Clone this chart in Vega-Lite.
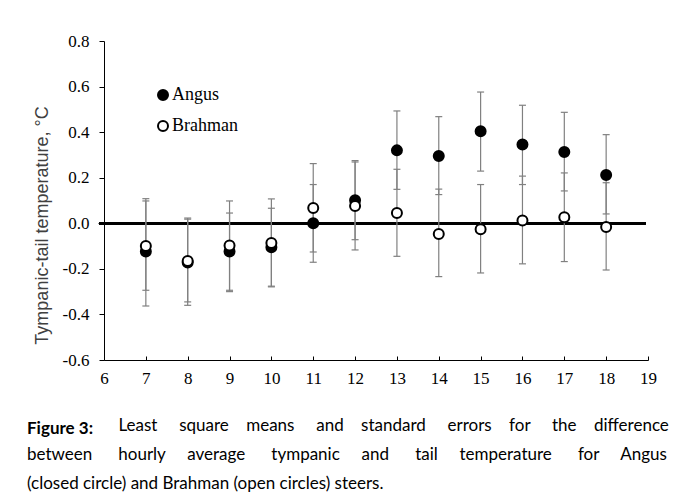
{
  "$schema": "https://vega.github.io/schema/vega-lite/v6.json",
  "width": 544,
  "height": 319,
  "autosize": {"type": "none"},
  "padding": {"left": 104, "top": 41, "right": 37, "bottom": 141},
  "background": "white",
  "title": {
    "text": "Figure 3:",
    "subtitle": [
      "\u200b\u00a0\u00a0\u00a0\u00a0\u00a0\u00a0\u00a0\u00a0\u00a0\u00a0\u00a0\u00a0\u00a0\u00a0\u00a0\u00a0\u00a0\u00a0\u00a0\u00a0\u00a0Least\u00a0\u00a0\u00a0\u00a0 square\u00a0\u00a0\u00a0 means\u00a0\u00a0\u00a0\u00a0 and\u00a0\u00a0\u00a0 standard\u00a0\u00a0\u00a0\u00a0 errors\u00a0\u00a0\u00a0 for\u00a0\u00a0\u00a0\u00a0 the\u00a0\u00a0\u00a0 difference",
      "between\u00a0\u00a0\u00a0\u00a0\u00a0 hourly\u00a0\u00a0\u00a0\u00a0 average\u00a0\u00a0\u00a0\u00a0\u00a0 tympanic\u00a0\u00a0\u00a0\u00a0 and\u00a0\u00a0\u00a0\u00a0\u00a0 tail\u00a0\u00a0\u00a0\u00a0 temperature\u00a0\u00a0\u00a0\u00a0\u00a0 for\u00a0\u00a0\u00a0\u00a0 Angus",
      "(closed circle) and Brahman (open circles) steers."
    ],
    "orient": "bottom",
    "anchor": "start",
    "frame": "group",
    "dx": -77,
    "offset": 35,
    "font": "Lato",
    "fontSize": 17,
    "fontWeight": "bold",
    "color": "black",
    "subtitleFont": "Lato",
    "subtitleFontSize": 17,
    "subtitleColor": "black",
    "subtitleLineHeight": 29,
    "subtitlePadding": -20
  },
  "data": {
    "values": [
      {"hour": 7, "breed": "Angus", "mean": -0.124, "lo": -0.363, "hi": 0.108},
      {"hour": 8, "breed": "Angus", "mean": -0.172, "lo": -0.36, "hi": 0.023},
      {"hour": 9, "breed": "Angus", "mean": -0.124, "lo": -0.294, "hi": 0.045},
      {"hour": 10, "breed": "Angus", "mean": -0.105, "lo": -0.276, "hi": 0.066},
      {"hour": 11, "breed": "Angus", "mean": 0.0, "lo": -0.171, "hi": 0.17},
      {"hour": 12, "breed": "Angus", "mean": 0.101, "lo": -0.072, "hi": 0.275},
      {"hour": 13, "breed": "Angus", "mean": 0.32, "lo": 0.149, "hi": 0.493},
      {"hour": 14, "breed": "Angus", "mean": 0.295, "lo": 0.126, "hi": 0.468},
      {"hour": 15, "breed": "Angus", "mean": 0.404, "lo": 0.229, "hi": 0.576},
      {"hour": 16, "breed": "Angus", "mean": 0.346, "lo": 0.17, "hi": 0.518},
      {"hour": 17, "breed": "Angus", "mean": 0.313, "lo": 0.142, "hi": 0.487},
      {"hour": 18, "breed": "Angus", "mean": 0.212, "lo": 0.041, "hi": 0.389},
      {"hour": 7, "breed": "Brahman", "mean": -0.1, "lo": -0.294, "hi": 0.098},
      {"hour": 8, "breed": "Brahman", "mean": -0.165, "lo": -0.345, "hi": 0.018},
      {"hour": 9, "breed": "Brahman", "mean": -0.098, "lo": -0.3, "hi": 0.098},
      {"hour": 10, "breed": "Brahman", "mean": -0.086, "lo": -0.279, "hi": 0.107},
      {"hour": 11, "breed": "Brahman", "mean": 0.067, "lo": -0.126, "hi": 0.262},
      {"hour": 12, "breed": "Brahman", "mean": 0.076, "lo": -0.117, "hi": 0.269},
      {"hour": 13, "breed": "Brahman", "mean": 0.045, "lo": -0.145, "hi": 0.237},
      {"hour": 14, "breed": "Brahman", "mean": -0.047, "lo": -0.234, "hi": 0.15},
      {"hour": 15, "breed": "Brahman", "mean": -0.026, "lo": -0.218, "hi": 0.17},
      {"hour": 16, "breed": "Brahman", "mean": 0.012, "lo": -0.178, "hi": 0.207},
      {"hour": 17, "breed": "Brahman", "mean": 0.026, "lo": -0.168, "hi": 0.221},
      {"hour": 18, "breed": "Brahman", "mean": -0.016, "lo": -0.205, "hi": 0.178}
    ]
  },
  "layer": [
    {
      "mark": {"type": "rule", "color": "black", "strokeWidth": 2, "clip": false},
      "encoding": {
        "y": {"datum": 0, "type": "quantitative", "scale": {"domain": [-0.6, 0.8]}},
        "x": {"datum": 5.88, "type": "quantitative"},
        "x2": {"datum": 18.94}
      }
    },
    {
      "mark": {"type": "rule", "color": "#808080", "strokeWidth": 1.2},
      "encoding": {
        "x": {"field": "hour", "type": "quantitative"},
        "y": {"field": "lo", "type": "quantitative"},
        "y2": {"field": "hi"}
      }
    },
    {
      "mark": {"type": "tick", "orient": "horizontal", "color": "#808080", "size": 7, "thickness": 1.2, "opacity": 1},
      "encoding": {
        "x": {"field": "hour", "type": "quantitative"},
        "y": {"field": "lo", "type": "quantitative"}
      }
    },
    {
      "mark": {"type": "tick", "orient": "horizontal", "color": "#808080", "size": 7, "thickness": 1.2, "opacity": 1},
      "encoding": {
        "x": {"field": "hour", "type": "quantitative"},
        "y": {"field": "hi", "type": "quantitative"}
      }
    },
    {
      "mark": {"type": "point", "shape": "circle", "filled": true, "stroke": "black", "strokeWidth": 2, "size": 100, "opacity": 1},
      "encoding": {
        "x": {
          "field": "hour",
          "type": "quantitative",
          "scale": {"domain": [6, 19], "nice": false, "zero": false},
          "axis": {
            "values": [6, 7, 8, 9, 10, 11, 12, 13, 14, 15, 16, 17, 18, 19],
            "title": null,
            "grid": false,
            "tickSize": -4,
            "labelPadding": 14,
            "domainColor": "black",
            "tickColor": "black",
            "labelFont": "Liberation Serif",
            "labelFontSize": 17,
            "labelColor": "black",
            "labelFlush": false
          }
        },
        "y": {
          "field": "mean",
          "type": "quantitative",
          "scale": {"domain": [-0.6, 0.8], "nice": false, "zero": false},
          "axis": {
            "values": [-0.6, -0.4, -0.2, 0, 0.2, 0.4, 0.6, 0.8],
            "labelExpr": "replace(format(datum.value, '.1f'), '\u2212', '-')",
            "title": "Tympanic-tail temperature, \u00b0C",
            "titleFont": "Liberation Sans",
            "titleFontSize": 18,
            "titleFontWeight": "normal",
            "titleColor": "#404040",
            "titlePadding": 11,
            "titleY": 184,
            "grid": false,
            "tickSize": 5,
            "labelPadding": 10,
            "domainColor": "black",
            "tickColor": "black",
            "labelFont": "Liberation Serif",
            "labelFontSize": 17,
            "labelColor": "black",
            "labelFlush": false
          }
        },
        "fill": {
          "field": "breed",
          "type": "nominal",
          "scale": {"domain": ["Angus", "Brahman"], "range": ["black", "white"]},
          "legend": {
            "title": null,
            "orient": "none",
            "legendX": 50,
            "legendY": 45,
            "symbolType": "circle",
            "symbolSize": 100,
            "symbolStrokeColor": "black",
            "symbolStrokeWidth": 2,
            "symbolOpacity": 1,
            "labelFont": "Liberation Serif",
            "labelFontSize": 18,
            "labelColor": "black",
            "labelOffset": 0,
            "rowPadding": 13,
            "padding": 0
          }
        },
        "order": {"field": "breed", "sort": "ascending"}
      }
    }
  ],
  "config": {
    "view": {"stroke": null},
    "axis": {"domainWidth": 1, "tickWidth": 1}
  }
}
